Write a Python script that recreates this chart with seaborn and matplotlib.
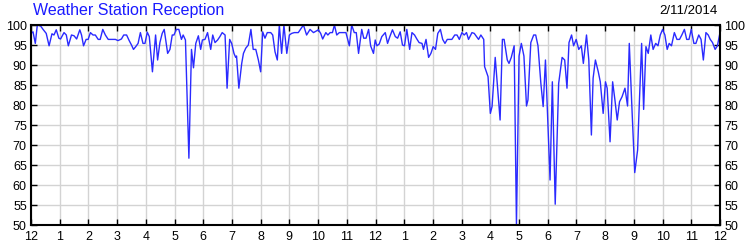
import matplotlib
matplotlib.use("Agg")
import matplotlib.pyplot as plt
import seaborn as sns
import pandas as pd

# ---- data (hours since midnight, reception %) ----
hours_a = [0.00, 0.07, 0.15, 0.22, 0.34, 0.42, 0.53, 0.63, 0.73, 0.80, 0.88, 0.97,
           1.03, 1.15, 1.23, 1.30, 1.41, 1.50, 1.59, 1.70, 1.76, 1.83, 1.92, 1.99,
           2.07, 2.16, 2.24, 2.34, 2.41, 2.50, 2.59, 2.69, 2.78, 2.86, 2.94,
           3.03, 3.15, 3.23, 3.33, 3.42, 3.50, 3.57, 3.65, 3.73, 3.81, 3.90, 3.97,
           4.05, 4.12, 4.23, 4.34, 4.41, 4.49, 4.57, 4.64, 4.76, 4.84, 4.92, 4.98,
           5.06, 5.15, 5.24, 5.30, 5.38, 5.50, 5.59, 5.66, 5.74, 5.83, 5.91, 5.97,
           6.06, 6.15, 6.26, 6.33, 6.41, 6.50, 6.58, 6.66, 6.76, 6.83, 6.92,
           6.99, 7.07, 7.13, 7.16, 7.24, 7.34, 7.40, 7.48, 7.57, 7.66, 7.74, 7.83, 7.92, 8.00, 8.07]
values_a = [97.9, 98.3, 95.4, 100, 99.7, 98.9, 97.9, 94.8, 97.8, 97.5, 98.8, 96.7,
            96.5, 98.1, 97.5, 94.8, 97.5, 97.3, 96.5, 98.8, 97.5, 94.8, 96.4, 96.4,
            98.1, 97.5, 97.5, 96.4, 96.4, 98.9, 97.5, 96.4, 96.4, 96.4, 96.4,
            96.1, 96.5, 97.5, 97.5, 96.1, 95.0, 93.9, 94.6, 95.4, 98.1, 95.4, 95.4,
            98.2, 97.1, 88.3, 97.5, 91.25, 95.6, 97.9, 98.9, 92.9, 93.9, 97.5, 97.5,
            98.9, 98.9, 96.4, 97.5, 96.25, 66.7, 93.9, 89.3, 95.4, 97.3, 93.9, 96.25,
            96.4, 98.1, 93.9, 97.5, 95.6, 96.25, 97.1, 98.1, 97.5, 84.2, 96.4,
            95.4, 92.9, 91.9, 92.25, 84.2, 90.4, 92.9, 94.2, 95.0, 98.9, 93.9, 93.9, 91.25, 88.3, 98.3]

hours_b = [8.15, 8.23, 8.35, 8.42, 8.50, 8.58, 8.65, 8.73, 8.81, 8.91,
           9.00, 9.08, 9.17, 9.31, 9.49, 9.60, 9.72, 9.84,
           10.01, 10.09, 10.16, 10.27, 10.34, 10.42, 10.50, 10.57, 10.65, 10.74, 10.85, 10.97,
           11.09, 11.17, 11.26, 11.33, 11.41, 11.52, 11.59, 11.67, 11.76, 11.83, 11.93, 11.99,
           12.05, 12.13, 12.22, 12.34, 12.42, 12.50, 12.59, 12.69, 12.77, 12.86, 12.94,
           13.01, 13.09, 13.19, 13.27, 13.36, 13.44, 13.52, 13.62, 13.67, 13.76, 13.85, 13.93,
           14.01, 14.09, 14.17, 14.26, 14.34, 14.42, 14.50, 14.58, 14.66, 14.76, 14.84, 14.92,
           15.01, 15.09, 15.17, 15.24, 15.36, 15.44, 15.52, 15.59, 15.67, 15.77]
values_b = [96.7, 98.1, 98.1, 97.5, 93.3, 91.25, 100, 92.9, 100, 92.9,
            97.5, 97.9, 98.1, 98.1, 100, 97.5, 98.9, 98.1,
            98.8, 97.9, 96.5, 98.1, 97.5, 98.1, 98.1, 100, 97.5, 98.1, 98.1, 98.1,
            94.8, 100, 98.1, 98.1, 92.9, 98.9, 96.7, 96.7, 98.9, 94.8, 92.9, 96.25,
            94.8, 95.25, 97.1, 98.1, 95.4, 97.1, 98.8, 97.1, 96.7, 98.3, 95.0,
            94.8, 98.9, 93.9, 98.1, 97.5, 96.5, 95.6, 95.4, 93.9, 96.4, 91.9, 92.9,
            94.6, 93.9, 97.9, 98.9, 96.4, 95.4, 96.4, 96.4, 96.4, 97.5, 97.5, 96.4,
            98.1, 97.5, 98.1, 96.4, 98.1, 97.9, 97.1, 96.4, 97.5, 96.4]

hours_c = [15.80, 15.92, 16.00, 16.06, 16.17, 16.24, 16.34, 16.42, 16.48, 16.59, 16.65, 16.73, 16.83, 16.91,
           17.00, 17.08, 17.17, 17.26, 17.31, 17.41, 17.51, 17.58, 17.66, 17.76, 17.84, 17.92,
           18.08, 18.16, 18.26, 18.38, 18.50, 18.59, 18.67, 18.74, 18.83, 18.90, 18.99,
           19.08, 19.17, 19.24, 19.35, 19.43, 19.52, 19.58, 19.66, 19.76, 19.83, 19.93,
           20.01, 20.07, 20.17, 20.26, 20.34, 20.42, 20.50, 20.59, 20.69, 20.78, 20.84, 20.94,
           21.03, 21.13, 21.17, 21.27, 21.34, 21.42, 21.50, 21.59, 21.67, 21.76, 21.84, 21.92,
           22.00, 22.08, 22.16, 22.23, 22.31, 22.41, 22.50, 22.59, 22.67, 22.76, 22.84, 22.92,
           23.00, 23.09, 23.16, 23.26, 23.34, 23.42, 23.51, 23.59, 23.66, 23.74, 23.83, 23.91, 24.00]
values_c = [89.6, 87.1, 77.9, 79.6, 91.9, 85.4, 76.25, 96.4, 96.4, 91.25, 90.4, 91.9, 94.8, 50.0,
            92.25, 95.4, 92.25, 79.75, 81.25, 95.6, 97.5, 97.5, 94.8, 85.4, 79.6, 91.25,
            61.25, 85.8, 55.2, 85.4, 91.9, 91.25, 84.2, 95.6, 97.5, 94.8, 96.4,
            93.9, 94.8, 90.4, 97.5, 91.25, 72.5, 86.7, 91.25, 88.3, 85.8, 77.9,
            85.8, 84.2, 70.8, 85.8, 81.25, 76.25, 80.8, 82.1, 84.2, 79.75, 95.4, 77.9,
            63.1, 68.75, 76.7, 95.4, 78.9, 94.6, 92.9, 97.5, 93.9, 95.4, 94.8, 97.5,
            98.9, 97.5, 93.9, 95.4, 94.8, 98.1, 96.4, 96.4, 97.5, 98.9, 96.4, 96.4,
            98.9, 95.4, 95.4, 97.5, 96.4, 91.25, 98.1, 97.5, 96.4, 95.6, 93.9, 94.8, 98.1]

tick_hours = list(range(0, 25))
tick_labels = ["12", "1", "2", "3", "4", "5", "6", "7", "8", "9", "10", "11",
               "12", "1", "2", "3", "4", "5", "6", "7", "8", "9", "10", "11", "12"]
y_ticks = [50, 55, 60, 65, 70, 75, 80, 85, 90, 95, 100]

title_text = "Weather Station Reception"
date_text = "2/11/2014"

# ---- build frame ----
df = pd.DataFrame({
    "hour": hours_a + hours_b + hours_c,
    "reception": values_a + values_b + values_c,
})

sns.set_style("white")
plt.rcParams["font.family"] = ["Liberation Sans", "DejaVu Sans"]

fig = plt.figure(figsize=(7.5, 2.5), dpi=100)
ax = fig.add_axes([31 / 750, 0.1, (720 - 31) / 750, 0.8])

sns.lineplot(data=df, x="hour", y="reception", ax=ax, color="#2a2aff",
             linewidth=1.0, estimator=None, sort=False)

ax.set_xlim(0, 24)
ax.set_ylim(50, 100)
ax.set_xticks(tick_hours)
ax.set_xticklabels(tick_labels)
ax.set_yticks(y_ticks)
ax.set_xlabel("")
ax.set_ylabel("")

ax.grid(True, color="#d3d3d3", linewidth=1.0)
ax.set_axisbelow(True)

for sp in ax.spines.values():
    sp.set_visible(True)
    sp.set_color("black")
    sp.set_linewidth(1.5)

ax.tick_params(axis="x", which="both", direction="in", length=4, width=1,
               top=True, bottom=True, labelsize=9, pad=4, colors="black")
ax.tick_params(axis="y", which="both", direction="in", length=4, width=1,
               left=True, right=True, labelleft=True, labelright=True,
               labelsize=9, pad=3, colors="black")

fig.text(33 / 750, 1 - 11 / 250, title_text, color="#1a1aff", fontsize=11.5,
         ha="left", va="center")
fig.text(718 / 750, 1 - 11 / 250, date_text, color="black", fontsize=9.5,
         ha="right", va="center")

fig.savefig("out.png", dpi=100, facecolor="white")
